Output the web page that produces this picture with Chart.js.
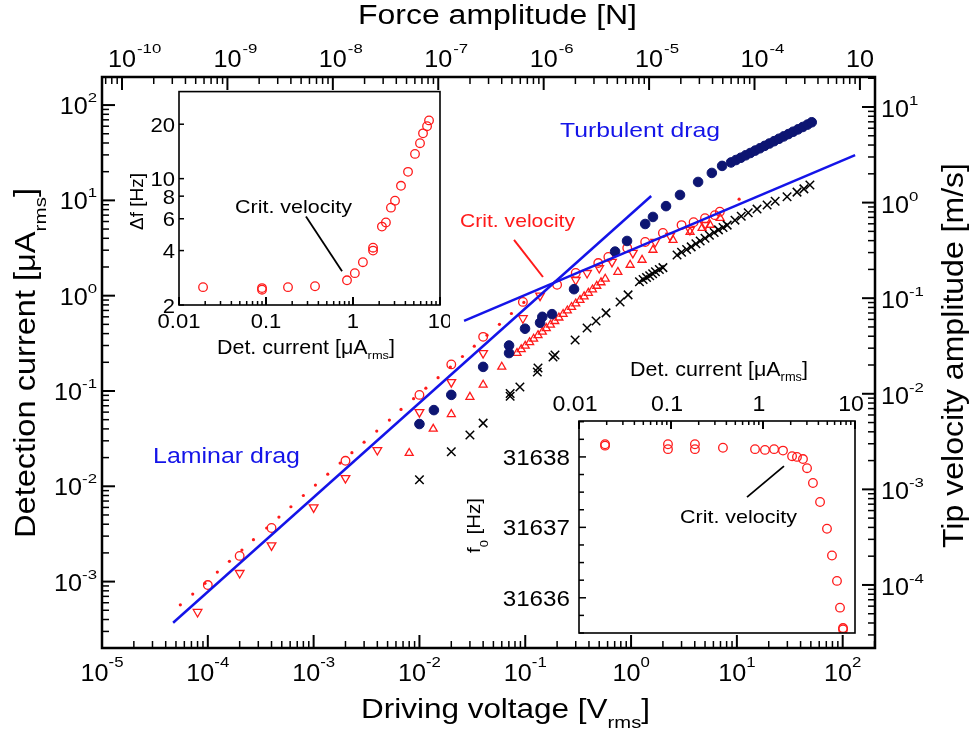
<!DOCTYPE html>
<html>
<head>
<meta charset="utf-8">
<title>Drag on a quartz tuning fork</title>
<script src="https://cdn.jsdelivr.net/npm/chart.js@4.4.1/dist/chart.umd.min.js"></script>
<style>
  html, body { margin: 0; padding: 0; background: #fff; }
  #wrap { position: relative; width: 971px; height: 735px; overflow: hidden; }
  #wrap canvas { position: absolute; }
  #mainChart { left: 0; top: 0; }
  #dfChart { left: 120px; top: 86px; }
  #f0Chart { left: 460px; top: 355px; }
</style>
</head>
<body>
<div id="wrap">
  <canvas id="mainChart" width="971" height="735"></canvas>
  <canvas id="dfChart" width="330" height="280"></canvas>
  <canvas id="f0Chart" width="405" height="285"></canvas>
</div>
<script>
'use strict';

// ---- main plot: detection current [uA] vs driving voltage [V] ----
const dotV = [5.5e-5, 7.2e-5, 9.4e-5, 1.23e-4, 1.6e-4, 2.1e-4, 2.7e-4, 3.6e-4, 4.7e-4, 6.1e-4,
  8.0e-4, 1.04e-3, 1.36e-3, 1.78e-3, 2.3e-3, 3.0e-3, 3.95e-3, 5.2e-3, 6.7e-3, 8.8e-3,
  1.15e-2, 1.5e-2, 1.96e-2, 2.55e-2, 3.3e-2, 4.35e-2, 5.7e-2, 7.4e-2, 9.7e-2, 10.5];
const dotI = [5.7e-4, 7.4e-4, 9.6e-4, 1.26e-3, 1.63e-3, 2.14e-3, 2.75e-3, 3.65e-3, 4.75e-3, 6.1e-3,
  8.0e-3, 1.03e-2, 1.34e-2, 1.75e-2, 2.25e-2, 2.9e-2, 3.8e-2, 4.95e-2, 6.4e-2, 8.3e-2,
  0.107, 0.138, 0.178, 0.23, 0.295, 0.385, 0.5, 0.65, 0.85, 10.3];

const circV = [1e-4, 2e-4, 4e-4, 2e-3, 1e-2, 2e-2, 4e-2, 0.095, 0.2, 0.3,
  0.49, 0.61, 0.92, 1.36, 2.0, 3.0, 3.9, 5.0, 6.2, 6.9];
const circI = [9.2e-4, 1.86e-3, 3.65e-3, 1.85e-2, 0.091, 0.19, 0.37, 0.86, 1.3, 1.73,
  2.2, 2.55, 3.16, 3.66, 4.55, 5.5, 5.9, 6.5, 7.0, 7.6];

const downV = [8e-5, 2e-4, 4e-4, 1e-3, 2e-3, 4e-3, 1e-2, 2e-2, 4e-2, 0.095,
  0.138, 0.3, 0.384, 0.5, 0.66, 1.04, 1.69, 2.34, 3.6, 5.0];
const downI = [4.8e-4, 1.23e-3, 2.4e-3, 6.0e-3, 1.22e-2, 2.4e-2, 0.06, 0.124, 0.25, 0.58,
  1.0, 1.46, 1.73, 1.95, 2.26, 2.81, 3.66, 4.23, 4.9, 5.5];

const upV = [8e-3, 0.0135, 0.02, 0.03, 0.04, 0.06,
  0.0836, 0.0916, 0.1, 0.11, 0.12, 0.132, 0.145, 0.158, 0.173, 0.19, 0.208,
  0.228, 0.25, 0.274, 0.30, 0.329, 0.36, 0.395, 0.432, 0.474, 0.52, 0.57,
  0.75, 0.98, 1.27, 1.61, 2.49, 3.61, 4.69, 5.58, 6.94];
const upI = [0.0223, 0.04, 0.057, 0.0865, 0.116, 0.179,
  0.25, 0.273, 0.297, 0.324, 0.352, 0.384, 0.418, 0.455, 0.495, 0.54, 0.587,
  0.64, 0.697, 0.759, 0.826, 0.90, 0.98, 1.067, 1.16, 1.265, 1.377, 1.5,
  1.77, 2.1, 2.37, 3.02, 3.84, 4.66, 5.13, 5.52, 6.53];

const navyV = [0.01, 0.0137, 0.02, 0.04, 0.0703, 0.0703, 0.0995, 0.138, 0.145, 0.179,
  0.289, 0.706, 0.916, 1.36, 1.61, 2.14, 2.9, 4.3, 5.8, 7.25,
  8.8, 9.8, 10.9, 12.1, 13.4, 14.9, 16.5, 18.3, 20.3, 22.5,
  25, 27.7, 30.7, 34, 37.8, 42, 46.5, 51];
const navyI = [0.045, 0.063, 0.091, 0.179, 0.30, 0.25, 0.45, 0.52, 0.60, 0.64,
  1.17, 2.9, 3.75, 5.65, 6.7, 8.7, 11.4, 15.6, 19.4, 23,
  25, 26.5, 28, 29.7, 31.4, 33.3, 35.2, 37.3, 39.5, 41.8,
  44.3, 46.9, 49.6, 52.5, 55.6, 58.9, 62.4, 66];

const crossV = [0.01, 0.02, 0.03, 0.04, 0.072, 0.072, 0.089, 0.13, 0.132, 0.183,
  0.191, 0.296, 0.384, 0.467, 0.58, 0.787, 0.937, 1.2, 1.3, 1.4,
  1.5, 1.6, 1.7, 1.85, 2.0, 2.72, 3.0, 3.35, 3.7, 4.1,
  4.5, 5.0, 5.5, 6.1, 6.7, 7.4, 8.1, 9.6, 11, 12.8,
  15.5, 19.3, 23, 29.8, 37, 43, 49];
const crossI = [0.0117, 0.023, 0.0345, 0.046, 0.088, 0.094, 0.11, 0.158, 0.174, 0.227,
  0.239, 0.343, 0.458, 0.543, 0.66, 0.86, 1.02, 1.4, 1.48, 1.55,
  1.62, 1.7, 1.78, 1.88, 1.97, 2.67, 2.85, 3.05, 3.25, 3.5,
  3.75, 4.0, 4.3, 4.6, 4.9, 5.2, 5.5, 6.2, 6.8, 7.4,
  8.1, 8.95, 9.8, 10.9, 12.2, 13.2, 14.5];

const laminarV = [4.7e-5, 1.55];
const laminarI = [3.7e-4, 11.1];
const turbV = [0.0264, 131];
const turbI = [0.543, 29.9];
const critV = [0.0783, 0.147];
const critI = [3.84, 1.57];

// axis ranges and tick labels
const voltRange = [1e-5, 202];
const currRange = [2.01e-4, 197];
const forceRange = [6.46e-11, 1.39e-3];
const tipRange = [2.19e-5, 20.6];
const voltTicks = [1e-5, 1e-4, 1e-3, 1e-2, 1e-1, 1, 10, 100];
const voltExp = ['-5', '-4', '-3', '-2', '-1', '0', '1', '2'];
const forceTicks = [1e-10, 1e-9, 1e-8, 1e-7, 1e-6, 1e-5, 1e-4, 1e-3];
const forceExp = ['-10', '-9', '-8', '-7', '-6', '-5', '-4', ''];
const currTicks = [1e-3, 1e-2, 1e-1, 1, 10, 100];
const currExp = ['-3', '-2', '-1', '0', '1', '2'];
const tipTicks = [1e-4, 1e-3, 1e-2, 1e-1, 1, 10];
const tipExp = ['-4', '-3', '-2', '-1', '0', '1'];

// ---- inset: frequency shift vs detection current ----
const dfI = [0.0189, 0.09, 0.09, 0.179, 0.366, 0.853, 1.05, 1.30, 1.70, 1.70,
  2.15, 2.39, 2.73, 3.04, 3.56, 4.29, 5.16, 5.89, 6.38, 7.1, 7.48];
const dfHz = [2.51, 2.48, 2.43, 2.51, 2.54, 2.74, 3.0, 3.45, 4.0, 4.15,
  5.43, 5.72, 6.91, 7.55, 9.13, 10.9, 13.7, 15.7, 17.8, 19.5, 21.0];
const dfPtrI = [0.288, 0.748];
const dfPtrHz = [6.17, 3.07];
const dfXTicks = [0.01, 0.1, 1, 10];
const dfXLabels = ['0.01', '0.1', '1', '10'];
const dfYTicks = [2, 4, 6, 8, 10, 20];
const dfYLabels = ['2', '4', '6', '8', '10', '20'];

// ---- inset: resonance frequency vs detection current ----
const f0I = [0.0192, 0.0192, 0.0927, 0.0927, 0.182, 0.182, 0.367, 0.819, 1.05, 1.32,
  1.65, 2.07, 2.34, 2.72, 3.01, 3.49, 4.17, 4.96, 5.62, 6.37, 6.87, 7.41, 7.41];
const f0Hz = [31638.18, 31638.16, 31638.18, 31638.11, 31638.18, 31638.11, 31638.13, 31638.11, 31638.10, 31638.11,
  31638.09, 31638.01, 31638.00, 31637.97, 31637.84, 31637.63, 31637.36, 31636.98, 31636.60, 31636.24,
  31635.86, 31635.57, 31635.55];
const f0PtrI = [0.67, 1.69];
const f0PtrHz = [31637.43, 31637.87];
const f0XTicks = [0.01, 0.1, 1, 10];
const f0XLabels = ['0.01', '0.1', '1', '10'];
const f0YTicks = [31636, 31637, 31638];
const f0YLabels = ['31636', '31637', '31638'];

const FONT = '"Liberation Sans", Arial, Helvetica, sans-serif';
const RED = '#ff1a1a';
const NAVY = '#0d1572';
const BLUE = '#1414e8';

function pts(xs, ys) {
  return xs.map((x, i) => ({ x: x, y: ys[i] }));
}

// parts: [text, px, box]; box = [top, bottom] of ink relative to baseline
function rich(ctx, parts, x, y, o) {
  o = o || {};
  ctx.save();
  ctx.translate(x, y);
  if (o.rot) ctx.rotate(o.rot);
  ctx.textBaseline = 'alphabetic';
  ctx.textAlign = 'left';
  ctx.fillStyle = o.color || '#000';
  const ws = parts.map(p => { ctx.font = p[1] + 'px ' + FONT; return ctx.measureText(p[0]).width; });
  const total = ws.reduce((a, b) => a + b, 0);
  const sx = o.width ? o.width / total : (o.sx || 1);
  if (o.align === 'center') ctx.translate(-total * sx / 2, 0);
  else if (o.align === 'right') ctx.translate(-total * sx, 0);
  ctx.scale(sx, 1);
  let cx = 0;
  parts.forEach((p, i) => {
    ctx.font = p[1] + 'px ' + FONT;
    ctx.save();
    ctx.translate(cx, 0);
    if (p[2]) {
      const m = ctx.measureText(p[0]);
      const asc = m.actualBoundingBoxAscent, desc = m.actualBoundingBoxDescent;
      const sy = (p[2][1] - p[2][0]) / (asc + desc);
      ctx.translate(0, p[2][0] + asc * sy);
      ctx.scale(1, sy);
    }
    ctx.fillText(p[0], 0, 0);
    ctx.restore();
    cx += ws[i];
  });
  ctx.restore();
}

function logTicks(ctx, scale, horiz, edge, dir, major, minor) {
  const lo = Math.floor(Math.log10(scale.min));
  const hi = Math.ceil(Math.log10(scale.max));
  for (let e = lo; e <= hi; e++) {
    for (let m = 1; m <= 9; m++) {
      const v = m * Math.pow(10, e);
      if (v < scale.min * 0.999 || v > scale.max * 1.001) continue;
      const p = scale.getPixelForValue(v);
      const len = m === 1 ? major : minor;
      ctx.lineWidth = m === 1 ? 2 : 1.5;
      ctx.beginPath();
      if (horiz) { ctx.moveTo(p, edge); ctx.lineTo(p, edge + dir * len); }
      else { ctx.moveTo(edge, p); ctx.lineTo(edge + dir * len, p); }
      ctx.stroke();
    }
  }
}

function hiddenAxis(extra) {
  return Object.assign({
    ticks: { display: false },
    grid: { display: false },
    border: { display: false },
    title: { display: false }
  }, extra);
}

function lineSet(label, xs, ys, color, width) {
  return { label: label, data: pts(xs, ys), showLine: true, borderColor: color, borderWidth: width,
    pointRadius: 0, pointHoverRadius: 0, order: 0 };
}

function markSet(label, xs, ys, style, o) {
  return Object.assign({ label: label, data: pts(xs, ys), pointStyle: style, showLine: false }, o);
}

const baseOptions = {
  responsive: false,
  animation: false,
  events: [],
  plugins: { legend: { display: false }, tooltip: { enabled: false } }
};

// ---------- main chart ----------
const mainDecor = {
  id: 'mainDecor',
  afterDraw(chart) {
    const ctx = chart.ctx, a = chart.chartArea, s = chart.scales;
    ctx.save();
    ctx.strokeStyle = '#000';
    logTicks(ctx, s.x, true, a.bottom, -1, 13, 7);
    logTicks(ctx, s.xf, true, a.top, 1, 13, 7);
    logTicks(ctx, s.y, false, a.left, 1, 13, 7);
    logTicks(ctx, s.yt, false, a.right, -1, 13, 7);
    ctx.lineWidth = 2.5;
    ctx.strokeRect(a.left, a.top, a.right - a.left, a.bottom - a.top);

    voltTicks.forEach((v, i) => {
      rich(ctx, [['10', 24], [voltExp[i], 16, [-25, -14]]], s.x.getPixelForValue(v), 681,
        { align: 'center', sx: 1.05 });
    });
    ctx.font = '24px ' + FONT;
    const w10 = ctx.measureText('10').width * 1.05;
    forceTicks.forEach((v, i) => {
      const px = s.xf.getPixelForValue(v);
      rich(ctx, [['10', 24]], px, 67, { align: 'center', sx: 1.05 });
      if (forceExp[i]) rich(ctx, [[forceExp[i], 16, [-24, -14]]], px + w10 / 2 + 1, 67, { sx: 1.05 });
    });
    currTicks.forEach((v, i) => {
      rich(ctx, [['10', 24], [currExp[i], 16, [-22, -12]]], 97, s.y.getPixelForValue(v) + 9,
        { align: 'right', sx: 1.05 });
    });
    tipTicks.forEach((v, i) => {
      rich(ctx, [['10', 24], [tipExp[i], 16, [-22, -12]]], 881, s.yt.getPixelForValue(v) + 10,
        { sx: 1.05 });
    });

    rich(ctx, [['Force amplitude [N]', 27]], 358, 24, { width: 279 });
    rich(ctx, [['Driving voltage [V', 28], ['rms', 18, [0, 10]], [']', 28]], 361, 718, { width: 289 });
    rich(ctx, [['Detection current [μA', 30], ['rms', 19, [1, 11]], [']', 30]], 35, 538,
      { rot: -Math.PI / 2, width: 350 });
    rich(ctx, [['Tip velocity amplitude [m/s]', 30]], 963, 548, { rot: -Math.PI / 2, width: 385 });

    rich(ctx, [['Turbulent drag', 21]], 560, 137, { width: 160, color: BLUE });
    rich(ctx, [['Laminar drag', 22]], 153, 463, { width: 147, color: BLUE });
    rich(ctx, [['Crit. velocity', 19]], 460, 227, { width: 115, color: RED });
    ctx.restore();
  }
};

new Chart(document.getElementById('mainChart'), {
  type: 'scatter',
  data: {
    datasets: [
      lineSet('Laminar drag', laminarV, laminarI, BLUE, 2.5),
      lineSet('Turbulent drag', turbV, turbI, BLUE, 2.5),
      lineSet('Crit. velocity', critV, critI, RED, 2),
      markSet('dots', dotV, dotI, 'circle', { pointRadius: 1.6, pointBackgroundColor: RED,
        pointBorderWidth: 0, order: 6 }),
      markSet('circles', circV, circI, 'circle', { pointRadius: 4.3, pointBorderColor: RED,
        pointBackgroundColor: 'rgba(0,0,0,0)', pointBorderWidth: 1.3, order: 5 }),
      markSet('down triangles', downV, downI, 'triangle', { pointRadius: 5, pointRotation: 180,
        pointBorderColor: RED, pointBackgroundColor: 'rgba(0,0,0,0)', pointBorderWidth: 1.3, order: 4 }),
      markSet('up triangles', upV, upI, 'triangle', { pointRadius: 4.6, pointBorderColor: RED,
        pointBackgroundColor: 'rgba(0,0,0,0)', pointBorderWidth: 1.3, order: 3 }),
      markSet('crosses', crossV, crossI, 'crossRot', { pointRadius: 6, pointBorderColor: '#000',
        pointBorderWidth: 1.5, order: 2 }),
      markSet('filled circles', navyV, navyI, 'circle', { pointRadius: 4.8, pointBorderColor: NAVY,
        pointBackgroundColor: NAVY, pointBorderWidth: 1, order: 1 })
    ]
  },
  options: Object.assign({}, baseOptions, {
    layout: { padding: 0 },
    scales: {
      x: hiddenAxis({ type: 'logarithmic', axis: 'x', position: 'bottom', min: voltRange[0], max: voltRange[1],
        afterFit: s => { s.height = 87; } }),
      xf: hiddenAxis({ type: 'logarithmic', axis: 'x', position: 'top', min: forceRange[0], max: forceRange[1],
        afterFit: s => { s.height = 77; } }),
      y: hiddenAxis({ type: 'logarithmic', axis: 'y', position: 'left', min: currRange[0], max: currRange[1],
        afterFit: s => { s.width = 102; } }),
      yt: hiddenAxis({ type: 'logarithmic', axis: 'y', position: 'right', min: tipRange[0], max: tipRange[1],
        afterFit: s => { s.width = 96; } })
    }
  }),
  plugins: [mainDecor]
});

// ---------- inset: delta f ----------
const dfDecor = {
  id: 'dfDecor',
  afterDraw(chart) {
    const ctx = chart.ctx, a = chart.chartArea, s = chart.scales;
    ctx.save();
    ctx.strokeStyle = '#000';
    logTicks(ctx, s.x, true, a.bottom, -1, 8, 4);
    ctx.lineWidth = 1.5;
    dfYTicks.forEach(v => {
      const p = s.y.getPixelForValue(v);
      ctx.beginPath(); ctx.moveTo(a.left, p); ctx.lineTo(a.left + 5, p); ctx.stroke();
    });
    ctx.lineWidth = 1.6;
    ctx.strokeRect(a.left, a.top, a.right - a.left, a.bottom - a.top);
    dfXTicks.forEach((v, i) => {
      rich(ctx, [[dfXLabels[i], 21]], s.x.getPixelForValue(v), a.bottom + 23, { align: 'center', sx: 1.05 });
    });
    dfYTicks.forEach((v, i) => {
      rich(ctx, [[dfYLabels[i], 21]], a.left - 4, s.y.getPixelForValue(v) + 7.5, { align: 'right', sx: 1.05 });
    });
    rich(ctx, [['Δf [Hz]', 19]], 23, 144, { rot: -Math.PI / 2, width: 57 });
    rich(ctx, [['Det. current [μA', 20], ['rms', 12, [-2, 5]], [']', 20]], 97, 268, { width: 178 });
    rich(ctx, [['Crit. velocity', 19]], 115, 127, { width: 117 });
    ctx.restore();
  }
};

new Chart(document.getElementById('dfChart'), {
  type: 'scatter',
  data: {
    datasets: [
      lineSet('pointer', dfPtrI, dfPtrHz, '#000', 1.8),
      markSet('delta f', dfI, dfHz, 'circle', { pointRadius: 4.3, pointBorderColor: RED,
        pointBackgroundColor: 'rgba(0,0,0,0)', pointBorderWidth: 1.3, order: 1 })
    ]
  },
  options: Object.assign({}, baseOptions, {
    layout: { padding: { top: 4, right: 10, left: 0, bottom: 0 } },
    scales: {
      x: hiddenAxis({ type: 'logarithmic', position: 'bottom', min: 0.01, max: 10,
        afterFit: s => { s.height = 61; } }),
      y: hiddenAxis({ type: 'logarithmic', position: 'left', min: 2, max: 30.3,
        afterFit: s => { s.width = 59; } })
    }
  }),
  plugins: [dfDecor]
});

// ---------- inset: f0 ----------
const f0Decor = {
  id: 'f0Decor',
  afterDraw(chart) {
    const ctx = chart.ctx, a = chart.chartArea, s = chart.scales;
    ctx.save();
    ctx.strokeStyle = '#000';
    logTicks(ctx, s.x, true, a.top, 1, 8, 4);
    ctx.lineWidth = 1.5;
    for (let k = Math.ceil(s.y.min * 4); k <= Math.floor(s.y.max * 4); k++) {
      const p = s.y.getPixelForValue(k / 4);
      ctx.beginPath(); ctx.moveTo(a.left, p); ctx.lineTo(a.left + (k % 4 === 0 ? 7 : 5), p); ctx.stroke();
    }
    ctx.lineWidth = 1.6;
    ctx.strokeRect(a.left, a.top, a.right - a.left, a.bottom - a.top);
    f0XTicks.forEach((v, i) => {
      rich(ctx, [[f0XLabels[i], 22]], s.x.getPixelForValue(v) - 4, 56, { align: 'center', sx: 1.05 });
    });
    f0YTicks.forEach((v, i) => {
      rich(ctx, [[f0YLabels[i], 22]], 110, s.y.getPixelForValue(v) + 8, { align: 'right', sx: 1.1 });
    });
    rich(ctx, [['Det. current [μA', 20], ['rms', 12, [-3, 5]], [']', 20]], 170, 21, { width: 178 });
    rich(ctx, [['f', 19], ['0', 12, [0, 8]], [' [Hz]', 19]], 20, 198, { rot: -Math.PI / 2, width: 55 });
    rich(ctx, [['Crit. velocity', 19]], 220, 168, { width: 117 });
    ctx.restore();
  }
};

new Chart(document.getElementById('f0Chart'), {
  type: 'scatter',
  data: {
    datasets: [
      lineSet('pointer', f0PtrI, f0PtrHz, '#000', 1.8),
      markSet('f0', f0I, f0Hz, 'circle', { pointRadius: 4.3, pointBorderColor: RED,
        pointBackgroundColor: 'rgba(0,0,0,0)', pointBorderWidth: 1.3, order: 1 })
    ]
  },
  options: Object.assign({}, baseOptions, {
    layout: { padding: { top: 0, right: 10, left: 0, bottom: 7 } },
    scales: {
      x: hiddenAxis({ type: 'logarithmic', position: 'top', min: 0.01, max: 10,
        afterFit: s => { s.height = 66; } }),
      y: hiddenAxis({ type: 'linear', position: 'left', min: 31635.5, max: 31638.51,
        afterFit: s => { s.width = 119; } })
    }
  }),
  plugins: [f0Decor]
});
</script>
</body>
</html>
